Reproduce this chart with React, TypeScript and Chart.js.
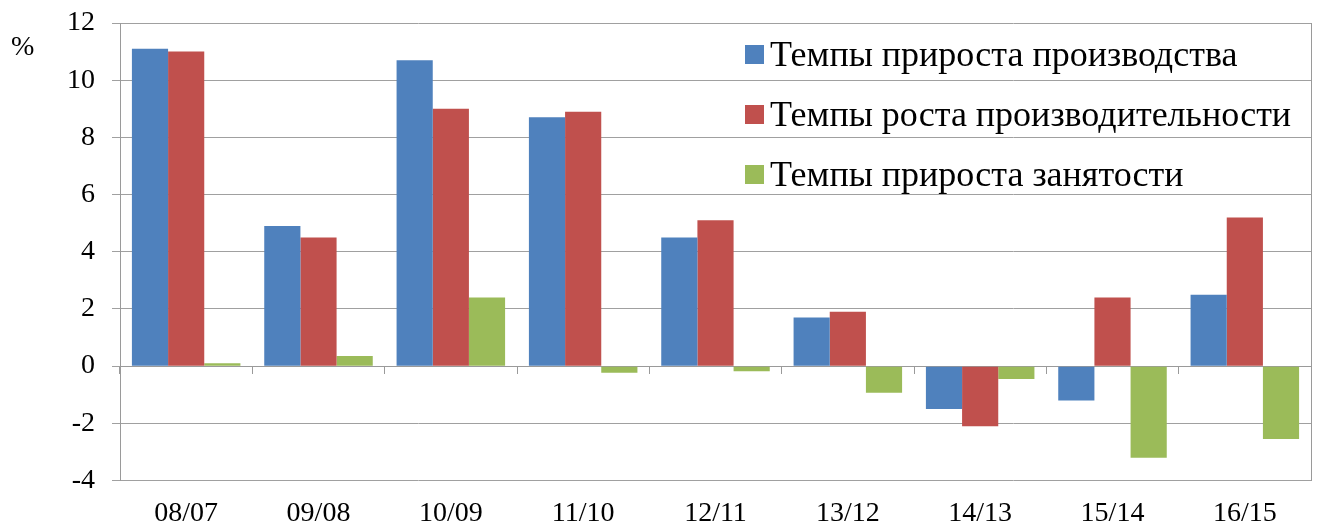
import React, { useEffect, useRef } from "react";
import { Chart, registerables } from "chart.js";

Chart.register(...registerables);

const categories = ["08/07", "09/08", "10/09", "11/10", "12/11", "13/12", "14/13", "15/14", "16/15"];
const productionGrowth = [11.1, 4.9, 10.7, 8.7, 4.5, 1.7, -1.5, -1.2, 2.5];
const productivityGrowth = [11.0, 4.5, 9.0, 8.9, 5.1, 1.9, -2.1, 2.4, 5.2];
const employmentGrowth = [0.1, 0.35, 2.4, -0.23, -0.18, -0.93, -0.45, -3.2, -2.55];
const seriesNames = [
  "Темпы прироста производства",
  "Темпы роста производительности",
  "Темпы прироста занятости",
];
const yTicks = [-4, -2, 0, 2, 4, 6, 8, 10, 12];
const unitLabel = "%";

const FONT = '"Liberation Serif", "Times New Roman", serif';
const GRID = "#a0a0a0";
const AXIS = "#9a9a9a";

const overlayPlugin = {
  id: "overlay",
  afterDraw(chart: any) {
    const ctx = chart.ctx as CanvasRenderingContext2D;
    ctx.save();
    ctx.fillStyle = "#000";
    ctx.font = `28px ${FONT}`;
    ctx.textBaseline = "middle";
    ctx.textAlign = "left";
    ctx.fillText(unitLabel, 11, 48);
    chart.data.datasets.forEach((ds: any, i: number) => {
      const y = 45 + i * 60;
      ctx.fillStyle = ds.backgroundColor;
      ctx.fillRect(745, y, 19, 19);
      ctx.fillStyle = "#000";
      ctx.font = `36px ${FONT}`;
      ctx.textBaseline = "alphabetic";
      ctx.textAlign = "left";
      ctx.fillText(ds.label, 770, y + 21);
    });
    ctx.restore();
  },
};

export default function App() {
  const ref = useRef<HTMLCanvasElement | null>(null);
  useEffect(() => {
    if (!ref.current) return;
    const chart = new Chart(ref.current, {
      type: "bar",
      data: {
        labels: categories,
        datasets: [
          { label: seriesNames[0], data: productionGrowth, backgroundColor: "#4F81BD" },
          { label: seriesNames[1], data: productivityGrowth, backgroundColor: "#C0504D" },
          { label: seriesNames[2], data: employmentGrowth, backgroundColor: "#9BBB59" },
        ],
      },
      options: {
        animation: false,
        responsive: true,
        maintainAspectRatio: false,
        layout: { padding: { top: 23, right: 7, left: 0, bottom: 0 } },
        datasets: { bar: { barPercentage: 1, categoryPercentage: 0.82 } },
        plugins: { legend: { display: false }, tooltip: { enabled: false }, title: { display: false } },
        scales: {
          x: {
            position: "bottom",
            grid: { display: false, drawTicks: false },
            border: { display: false },
            ticks: { font: { family: FONT, size: 28 }, color: "#000", padding: 16, maxRotation: 0, autoSkip: false },
            afterFit: (s: any) => { s.height = 46.5; },
          },
          x2: {
            type: "category",
            position: { y: 0 } as any,
            offset: true,
            grid: { offset: true, drawOnChartArea: false, drawTicks: true, tickLength: 7, color: AXIS },
            border: { display: true, color: AXIS },
            ticks: { display: false },
            afterFit: (s: any) => { s.height = 0; },
          },
          y: {
            min: -4,
            max: 12,
            afterBuildTicks: (s: any) => { s.ticks = yTicks.map((v) => ({ value: v })); },
            ticks: { font: { family: FONT, size: 28 }, color: "#000", padding: 17 },
            grid: { color: GRID, tickLength: 8, drawTicks: true },
            border: { display: true, color: AXIS },
            afterFit: (s: any) => { s.width = 120; s.paddingTop = 0; s.paddingBottom = 0; },
          },
          y2: {
            position: "right",
            min: -4,
            max: 12,
            ticks: { display: false },
            grid: { drawOnChartArea: false, drawTicks: false },
            border: { display: true, color: AXIS },
            afterFit: (s: any) => { s.width = 0; s.paddingTop = 0; s.paddingBottom = 0; },
          },
        },
      } as any,
      plugins: [overlayPlugin],
    });
    return () => chart.destroy();
  }, []);
  return (
    <div style={{ position: "fixed", left: 0, top: 0, width: 1318, height: 527 }}>
      <canvas ref={ref} />
    </div>
  );
}
